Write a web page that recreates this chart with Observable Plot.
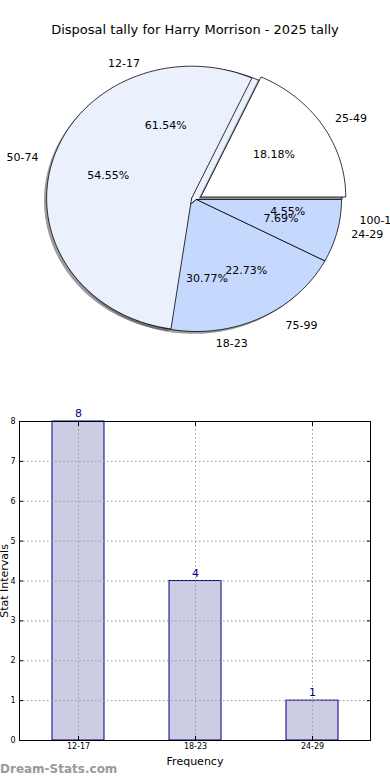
<!DOCTYPE html>
<html>
<head>
<meta charset="utf-8">
<script src="https://cdn.jsdelivr.net/npm/d3@7"></script>
<script src="https://cdn.jsdelivr.net/npm/@observablehq/plot@0.6"></script>
<style>
  body { margin:0; background:#fff; width:390px; height:780px; position:relative; overflow:hidden; font-family:"DejaVu Sans", sans-serif; }
  #title { position:absolute; top:22px; left:0; width:390px; text-align:center; font-size:13px; color:#000; }
  #pie { position:absolute; top:0; left:0; }
  #bar { position:absolute; top:400px; left:0; }
  #wm { position:absolute; top:762px; left:0; font-size:12px; font-weight:bold; color:#9a9a9a; }
</style>
</head>
<body>
<div id="pie"></div>
<div id="title">Disposal tally for Harry Morrison - 2025 tally</div>
<div id="bar"></div>
<div id="wm">Dream-Stats.com</div>
<script>
// ---- data ----
const pieCats1 = ["12-17", "18-23", "24-29"];
const pieVals1 = [8, 4, 1];
const pieCats2 = ["25-49", "50-74", "75-99", "100-124"];
const pieVals2 = [4, 12, 5, 1];
const barCats = ["12-17", "18-23", "24-29"];
const barVals = [8, 4, 1];
const yTicks = [0, 1, 2, 3, 4, 5, 6, 7, 8];

// ---- styles ----
const pieColors1 = ["#eaf0fc", "#c5d8fd", "#c5d8fd"];
const pieColors2 = ["#ffffff", "#eaf0fc", "none", "none"];
const explode1 = 0;
const explode2 = 0.035;
const CX = 196, CY = 199, RX = 145, RY = 132;

function wedges(cats, vals, colors, ex, prefix) {
  const total = d3.sum(vals);
  let acc = 0;
  const pts = [], shadow = [], labels = [];
  cats.forEach((c, i) => {
    const a0 = acc / total * 2 * Math.PI; acc += vals[i];
    const a1 = acc / total * 2 * Math.PI;
    const m = (a0 + a1) / 2;
    const ox = ex * Math.cos(m), oy = ex * Math.sin(m);
    const n = Math.max(2, Math.ceil((a1 - a0) / (Math.PI / 180)));
    const ring = [[ox, oy]];
    for (let j = 0; j <= n; j++) { const a = a0 + (a1 - a0) * j / n; ring.push([ox + Math.cos(a), oy + Math.sin(a)]); }
    ring.push([ox, oy]);
    ring.forEach(([x, y]) => {
      pts.push({k: prefix + c, x, y, fill: colors[i]});
      if (colors[i] !== "none") shadow.push({k: prefix + c, x: x - 0.018, y: y - 0.018});
    });
    labels.push({
      cat: c, pct: (vals[i] / total * 100).toFixed(2) + "%",
      lx: ox + 1.1 * Math.cos(m), ly: oy + 1.1 * Math.sin(m),
      px: ox + 0.6 * Math.cos(m), py: oy + 0.6 * Math.sin(m)
    });
  });
  return {pts, shadow, labels};
}

const w1 = wedges(pieCats1, pieVals1, pieColors1, explode1, "a");
const w2 = wedges(pieCats2, pieVals2, pieColors2, explode2, "b");
const allLabels = [...w1.labels, ...w2.labels];

const PH = 370;
const pie = Plot.plot({
  width: 390, height: PH, margin: 0,
  style: {fontFamily: "DejaVu Sans", fontSize: "11px", background: "transparent"},
  x: {domain: [-CX / RX, (390 - CX) / RX], axis: null},
  y: {domain: [-(PH - CY) / RY, CY / RY], axis: null},
  color: {type: "identity"},
  marks: [
    Plot.line(w1.shadow, {x: "x", y: "y", z: "k", fill: "#4d4d4d", fillOpacity: 0.55, stroke: "none"}),
    Plot.line(w1.pts, {x: "x", y: "y", z: "k", fill: "fill", stroke: "black", strokeWidth: 0.8}),
    Plot.line(w2.shadow, {x: "x", y: "y", z: "k", fill: "#4d4d4d", fillOpacity: 0.55, stroke: "none"}),
    Plot.line(w2.pts.filter(d => d.fill !== "none"), {x: "x", y: "y", z: "k", fill: "fill", stroke: "black", strokeWidth: 0.8}),
    Plot.line(w2.pts.filter(d => d.fill === "none"), {x: "x", y: "y", z: "k", fill: "none", stroke: "none"}),
    Plot.text(allLabels.filter(d => d.lx >= 0), {x: "lx", y: "ly", text: "cat", textAnchor: "start", fill: "black"}),
    Plot.text(allLabels.filter(d => d.lx < 0), {x: "lx", y: "ly", text: "cat", textAnchor: "end", fill: "black"}),
    Plot.text(allLabels, {x: "px", y: "py", text: "pct", textAnchor: "middle", fill: "black"})
  ]
});
document.getElementById("pie").appendChild(pie);

const barData = barCats.map((c, i) => ({cat: c, value: barVals[i]}));
const gridStyle = {stroke: "#9a9a9a", strokeOpacity: 1, strokeDasharray: "1.5,2.5", strokeWidth: 1};

const bar = Plot.plot({
  width: 390, height: 380,
  marginTop: 21, marginBottom: 40, marginLeft: 19, marginRight: 20,
  style: {fontFamily: "DejaVu Sans", fontSize: "8px", background: "transparent"},
  x: {domain: barCats, paddingInner: 0.556, paddingOuter: 0.278, axis: null},
  y: {domain: [0, 8], axis: null},
  marks: [
    Plot.barY(barData, {x: "cat", y: "value", fill: "#ccccE5", stroke: "#000080", strokeWidth: 1}),
    Plot.gridY(yTicks, gridStyle),
    Plot.gridX(barCats, gridStyle),
    Plot.frame({stroke: "black", strokeWidth: 1}),
    Plot.axisY(yTicks, {anchor: "left", tickSize: -4, tickPadding: 8, label: null, fontSize: 8}),
    Plot.axisY(yTicks, {anchor: "right", tickSize: -4, tickFormat: () => "", label: null}),
    Plot.axisX(barCats, {anchor: "bottom", tickSize: -4, tickPadding: 7, label: null, fontSize: 8}),
    Plot.axisX(barCats, {anchor: "top", tickSize: -4, tickFormat: () => "", label: null}),
    Plot.text(barData, {x: "cat", y: "value", text: d => String(d.value), dy: -8, fill: "#00008b", fontSize: 11}),
    Plot.text(["Frequency"], {frameAnchor: "bottom", textAnchor: "middle", lineAnchor: "middle", dy: 21, fontSize: 11, fill: "black"}),
    Plot.text(["Stat Intervals"], {frameAnchor: "left", textAnchor: "middle", lineAnchor: "middle", dx: -15, rotate: -90, fontSize: 11, fill: "black"})
  ]
});
document.getElementById("bar").appendChild(bar);
</script>
</body>
</html>
